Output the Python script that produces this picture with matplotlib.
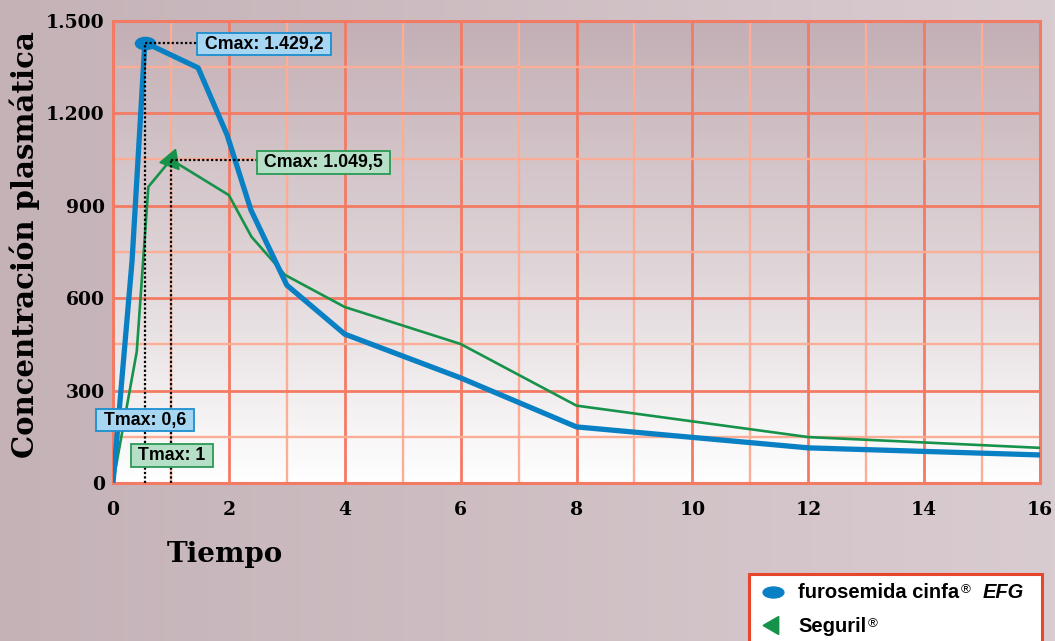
import numpy as np
import matplotlib
matplotlib.use('Agg')
import matplotlib.pyplot as plt
from matplotlib.colors import LinearSegmentedColormap
from matplotlib.path import Path
from matplotlib.transforms import Affine2D
from matplotlib.patches import Rectangle
from matplotlib.lines import Line2D
from matplotlib.text import Annotation

# ---------------- data ----------------
time_furo = [0, 0.33, 0.55, 1.47, 1.97, 2.38, 3, 4, 6, 8, 12, 16]
conc_furo = [0, 723, 1429.2, 1347, 1129, 886, 642, 483, 341, 182, 114, 91]
time_seg = [0, 0.41, 0.61, 1.0, 2.0, 2.39, 2.97, 4, 6, 8, 12, 16]
conc_seg = [0, 426, 961, 1049.5, 934, 799, 675, 571, 451, 251, 149, 114]

tmax_furo, cmax_furo = 0.55, 1429.2
tmax_seg, cmax_seg = 1.0, 1049.5

label_cmax_furo = 'Cmax: 1.429,2'
label_cmax_seg = 'Cmax: 1.049,5'
label_tmax_furo = 'Tmax: 0,6'
label_tmax_seg = 'Tmax: 1'

xticks = list(range(0, 17, 2))
xticklabels = [str(v) for v in xticks]
xminor = list(range(1, 16, 2))
yticks = [0, 300, 600, 900, 1200, 1500]
yticklabels = ['0', '300', '600', '900', '1.200', '1.500']
yminor = [150, 450, 750, 1050, 1350]

series_names = ['furosemida cinfa', 'Seguril']

# ---------------- style ----------------
BLUE = '#0a80c4'
GREEN = '#17924a'
MAJOR = '#f47b63'
MINOR = '#fbad95'
SERIF = 'DejaVu Serif'
SANS = 'Liberation Sans'

ellipse = Path(Affine2D().scale(1.65, 1.0).transform_path(Path.unit_circle()).vertices,
               Path.unit_circle().codes)
ellipse_leg = Path(Affine2D().scale(1.9, 1.0).transform_path(Path.unit_circle()).vertices,
                   Path.unit_circle().codes)

fig = plt.figure(figsize=(10.55, 6.41), dpi=100)

# figure background gradient
bg = fig.add_axes([0, 0, 1, 1], zorder=-5)
bg.imshow(np.linspace(0, 1, 256)[None, :],
          cmap=LinearSegmentedColormap.from_list('bg', ['#c4b2b7', '#d9ccd0']),
          aspect='auto', extent=[0, 1, 0, 1])
bg.axis('off')

ax = fig.add_axes([0.1071, 0.2465, 0.8787, 0.7212])
ax.patch.set_alpha(0)
ax.imshow(np.linspace(0, 1, 256)[:, None],
          cmap=LinearSegmentedColormap.from_list('axg', ['#c3afb5', '#ddd2d5', '#ffffff']),
          extent=[0, 16, 0, 1500], aspect='auto', origin='upper', zorder=0)
ax.set_xlim(0, 16)
ax.set_ylim(0, 1500)

ax.set_xticks(xticks)
ax.set_xticklabels(xticklabels)
ax.set_xticks(xminor, minor=True)
ax.set_yticks(yticks)
ax.set_yticklabels(yticklabels)
ax.set_yticks(yminor, minor=True)
ax.set_axisbelow(True)
ax.grid(which='minor', color=MINOR, lw=1.7)
ax.grid(which='major', color=MAJOR, lw=2.0)
ax.tick_params(which='both', length=0)
ax.tick_params(axis='x', pad=13)
ax.tick_params(axis='y', pad=6)
for lbl in ax.get_xticklabels() + ax.get_yticklabels():
    lbl.set_family(SERIF)
    lbl.set_fontweight('bold')
    lbl.set_fontsize(13.5)
for sp in ax.spines.values():
    sp.set_color(MAJOR)
    sp.set_linewidth(2.2)

# series
ax.plot(time_seg, conc_seg, color=GREEN, lw=1.9, zorder=3)
ax.plot(time_furo, conc_furo, color=BLUE, lw=3.8, zorder=4)

# dotted reference lines
dot = dict(color='black', ls=(0, (1, 1)), lw=1.6, zorder=6, clip_on=False)
ax.plot([tmax_furo, tmax_furo], [0, cmax_furo], **dot)
ax.plot([tmax_furo, 1.5], [cmax_furo, cmax_furo], **dot)
ax.plot([tmax_seg, tmax_seg], [0, cmax_seg], **dot)
ax.plot([tmax_seg, 2.5], [cmax_seg, cmax_seg], **dot)

# peak markers
ax.plot([tmax_furo], [cmax_furo], ls='none', marker=ellipse, ms=14.5, color=BLUE, zorder=5)
ax.plot([tmax_seg], [cmax_seg], ls='none', marker=(3, 0, 100), ms=17, color=GREEN, zorder=5)

# annotation boxes
blue_box = dict(boxstyle='square,pad=0.15', fc='#a6d6f1', ec='#1b8fcf', lw=1.3)
green_box = dict(boxstyle='square,pad=0.15', fc='#b5dfc6', ec='#2a9a55', lw=1.3)
tkw = dict(ha='center', va='center', fontsize=12.8, fontweight='bold',
           family=SANS, zorder=8, clip_on=False)
ax.text(2.607, 1424, ' ' + label_cmax_furo + ' ', bbox=blue_box, **tkw)
ax.text(3.633, 1040, ' ' + label_cmax_seg + ' ', bbox=green_box, **tkw)
ax.text(0.552, 204, ' ' + label_tmax_furo + ' ', bbox=blue_box, **tkw)
ax.text(1.018, 89, ' ' + label_tmax_seg + ' ', bbox=green_box, **tkw)

# axis labels
fig.text(0.0237, 0.618, 'Concentración plasmática', rotation=90, ha='center', va='center',
         fontsize=21, fontweight='bold', family=SERIF)
fig.text(225 / 1055, (641 - 562) / 641, 'Tiempo', ha='center', va='baseline',
         fontsize=20, fontweight='bold', family=SERIF)

# legend (manual)
fig.add_artist(Rectangle((749 / 1055, -0.02), (1042 - 749) / 1055, (641 - 574) / 641 + 0.02,
                         transform=fig.transFigure, fc='white', ec='#e8462b', lw=2.2,
                         clip_on=False, zorder=10))
fig.add_artist(Line2D([773 / 1055], [(641 - 592) / 641], ls='none', marker=ellipse_leg,
                      ms=15, color=BLUE, transform=fig.transFigure, zorder=11))
fig.add_artist(Line2D([773 / 1055], [(641 - 625) / 641], ls='none', marker=(3, 0, 90),
                      ms=15, color=GREEN, transform=fig.transFigure, zorder=11))

lkw = dict(fontsize=14.5, fontweight='bold', family=SANS, zorder=12)
t1 = fig.text(798 / 1055, (641 - 598) / 641, series_names[0], ha='left', va='baseline', **lkw)
t2 = fig.text(798 / 1055, (641 - 632) / 641, series_names[1], ha='left', va='baseline', **lkw)
for t in (t1, t2):
    fig.add_artist(Annotation('®', xy=(1, 1), xycoords=t, xytext=(1, -1),
                              textcoords='offset points', ha='left', va='top',
                              fontsize=9.5, family=SANS, zorder=12))
fig.add_artist(Annotation('EFG', xy=(1, 0), xycoords=t1, xytext=(17, 0),
                          textcoords='offset points', ha='left', va='bottom',
                          fontsize=14.5, fontweight='bold', fontstyle='italic',
                          family=SANS, zorder=12))

fig.savefig('out.png', dpi=100)
